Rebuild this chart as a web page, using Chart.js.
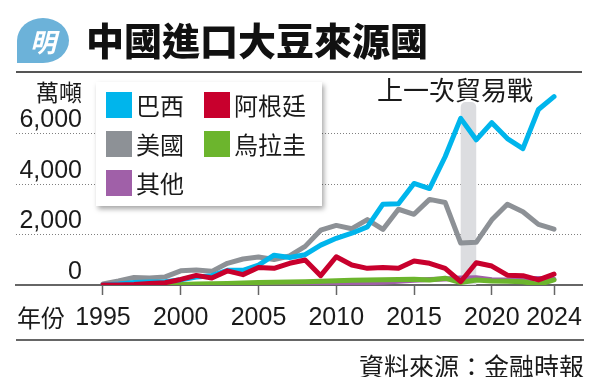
<!DOCTYPE html>
<html>
<head>
<meta charset="utf-8">
<script src="https://cdn.jsdelivr.net/npm/chart.js@4/dist/chart.umd.min.js"></script>
<style>
  body { margin: 0; background: #fff; }
  #wrap { position: relative; width: 600px; height: 377px; overflow: hidden; background: #fff;
          font-family: "Noto Sans CJK TC", "Liberation Sans", sans-serif; color: #1a1a1a; }
  #wrap canvas { position: absolute; left: 0; top: 0; }
  .abs { position: absolute; white-space: nowrap; }
  #logo { left: 17px; top: 18px; width: 52px; height: 45px; background: #6cb2d9;
          border-radius: 50% 50% 50% 0; color: #fff; font-size: 26px; font-weight: 700;
          line-height: 45px; text-align: center; font-style: italic; }
  #title { left: 86px; top: 14px; font-size: 38px; font-weight: 900; line-height: 50px; color: #111; }
  #topRule { left: 16px; top: 71px; width: 566px; height: 0; border-top: 2px solid #555; }
  #unit { right: 518px; top: 77px; font-size: 23px; line-height: 28px; }
  #war { left: 377px; top: 73px; font-size: 26px; line-height: 32px; }
  #legend { left: 96px; top: 82px; width: 226px; height: 124px; background: #fff;
            box-shadow: 2px 3px 5px rgba(0,0,0,0.35); }
  .item { position: absolute; height: 27px; font-size: 24px; line-height: 27px; }
  .sw { position: absolute; left: 0; top: 0; width: 26px; height: 26px; }
  .lab { position: absolute; left: 30px; top: -1px; }
  #xname { left: 17px; top: 302px; font-size: 24px; line-height: 30px; }
  #rule2 { left: 16px; top: 339px; width: 568px; height: 0; border-top: 2px solid #666; }
  #source { right: 16px; top: 349px; font-size: 25px; line-height: 32px; }
</style>
</head>
<body>
<div id="wrap">
  <canvas id="chart" width="600" height="377"></canvas>
  <div id="logo" class="abs">明</div>
  <div id="title" class="abs">中國進口大豆來源國</div>
  <div id="topRule" class="abs"></div>
  <div id="unit" class="abs">萬噸</div>
  <div id="war" class="abs">上一次貿易戰</div>
  <div id="legend" class="abs"></div>
  <div id="xname" class="abs">年份</div>
  <div id="rule2" class="abs"></div>
  <div id="source" class="abs">資料來源：金融時報</div>
</div>
<script>
// 年份 1995-2024，單位：萬噸
const years = [1995, 1996, 1997, 1998, 1999, 2000, 2001, 2002, 2003, 2004,
               2005, 2006, 2007, 2008, 2009, 2010, 2011, 2012, 2013, 2014,
               2015, 2016, 2017, 2018, 2019, 2020, 2021, 2022, 2023, 2024];

const brazil    = [0, 40, 100, 120, 130, 210, 320, 370, 580, 580,
                   790, 1180, 1090, 1200, 1580, 1850, 2050, 2300, 3200, 3220,
                   4020, 3820, 5080, 6600, 5750, 6430, 5800, 5400, 6950, 7460];
const argentina = [0, 0, 20, 60, 90, 220, 380, 280, 560, 410,
                   690, 660, 860, 990, 370, 1120, 790, 660, 690, 660,
                   950, 860, 660, 130, 880, 750, 390, 370, 200, 430];
const usa       = [40, 160, 300, 280, 320, 560, 590, 540, 860, 1030,
                   1110, 1010, 1150, 1530, 2170, 2360, 2230, 2590, 2200, 3000,
                   2800, 3390, 3270, 1660, 1690, 2580, 3200, 2900, 2400, 2210];
const uruguay   = [0, 0, 0, 0, 0, 20, 40, 50, 60, 80,
                   100, 110, 120, 130, 150, 170, 190, 200, 210, 220,
                   225, 200, 270, 100, 200, 160, 150, 130, 20, 200];
const others    = [0, 0, 0, 0, 0, 0, 0, 10, 20, 20,
                   30, 30, 40, 40, 50, 60, 70, 90, 110, 150,
                   190, 220, 240, 280, 290, 210, 200, 250, 260, 230];

const xTicks = [1995, 2000, 2005, 2010, 2015, 2020, 2024];
const yTicks = [0, 2000, 4000, 6000];
const yTickLabels = ['0', '2,000', '4,000', '6,000'];
const tradeWar = [2018, 2019];

// 圖例次序（兩欄）
const legendNames  = ['巴西', '阿根廷', '美國', '烏拉圭', '其他'];
const legendColors = ['#00b5ec', '#c8002d', '#8d9196', '#6cb52d', '#a060a8'];

const legend = document.getElementById('legend');
legendNames.forEach((name, i) => {
  const el = document.createElement('div');
  el.className = 'item';
  el.style.left = (i % 2 === 0 ? 10 : 108) + 'px';
  el.style.top = (10 + Math.floor(i / 2) * 39) + 'px';
  el.innerHTML = '<div class="sw" style="background:' + legendColors[i] + '"></div><div class="lab">' + name + '</div>';
  legend.appendChild(el);
});

const pts = vals => years.map((yr, i) => ({ x: yr, y: vals[i] }));
const colorOf = name => legendColors[legendNames.indexOf(name)];

const line = (name, vals) => ({
  label: name,
  data: pts(vals),
  borderColor: colorOf(name),
  borderWidth: 5,
  pointRadius: 0,
  tension: 0,
  borderJoinStyle: 'round',
  borderCapStyle: 'round'
});

// 貿易戰灰色帶
const warBand = {
  id: 'warBand',
  beforeDatasetsDraw(chart) {
    const { ctx, scales: { x, y } } = chart;
    const x1 = x.getPixelForValue(tradeWar[0]);
    const x2 = x.getPixelForValue(tradeWar[1]);
    const top = y.getPixelForValue(7250);
    const bottom = y.getPixelForValue(0);
    ctx.save();
    ctx.fillStyle = '#dcdde0';
    ctx.beginPath();
    ctx.roundRect(x1, top, x2 - x1, bottom - top, [5, 5, 0, 0]);
    ctx.fill();
    ctx.restore();
  }
};

// Y 軸數字（在格線上方，右對齊）
const yLabels = {
  id: 'yLabels',
  afterDraw(chart) {
    const { ctx, scales: { y } } = chart;
    ctx.save();
    ctx.font = '25px "Liberation Sans", sans-serif';
    ctx.fillStyle = '#1a1a1a';
    ctx.textAlign = 'right';
    ctx.textBaseline = 'middle';
    yTicks.forEach((v, i) => {
      ctx.fillText(yTickLabels[i], 82, y.getPixelForValue(v) - 13);
    });
    ctx.restore();
  }
};

new Chart(document.getElementById('chart'), {
  type: 'line',
  data: {
    datasets: [
      line('阿根廷', argentina),
      line('巴西', brazil),
      line('美國', usa),
      line('烏拉圭', uruguay),
      line('其他', others)
    ]
  },
  options: {
    responsive: false,
    animation: false,
    devicePixelRatio: 1,
    layout: { padding: { left: 16, right: 18, top: 83, bottom: 42 } },
    plugins: { legend: { display: false }, tooltip: { enabled: false } },
    scales: {
      x: {
        type: 'linear',
        min: 1989.41,
        max: 2025.8,
        afterBuildTicks: s => { s.ticks = xTicks.map(v => ({ value: v })); },
        afterFit: s => { s.height = 50; },
        grid: { drawOnChartArea: false, drawTicks: true, tickLength: 10, tickColor: '#666', tickWidth: 1.5 },
        border: { color: '#666', width: 2 },
        ticks: {
          autoSkip: false,
          maxRotation: 0,
          padding: 8,
          color: '#1a1a1a',
          font: { family: '"Liberation Sans", sans-serif', size: 25 },
          callback: v => String(v)
        }
      },
      y: {
        min: 0,
        max: 8000,
        afterBuildTicks: s => { s.ticks = yTicks.map(v => ({ value: v })); },
        afterFit: s => { s.width = 0; },
        grid: { color: '#808080', lineWidth: 1, drawTicks: false },
        border: { display: false, dash: [1, 2] },
        ticks: { display: false }
      }
    }
  },
  plugins: [warBand, yLabels]
});
</script>
</body>
</html>
